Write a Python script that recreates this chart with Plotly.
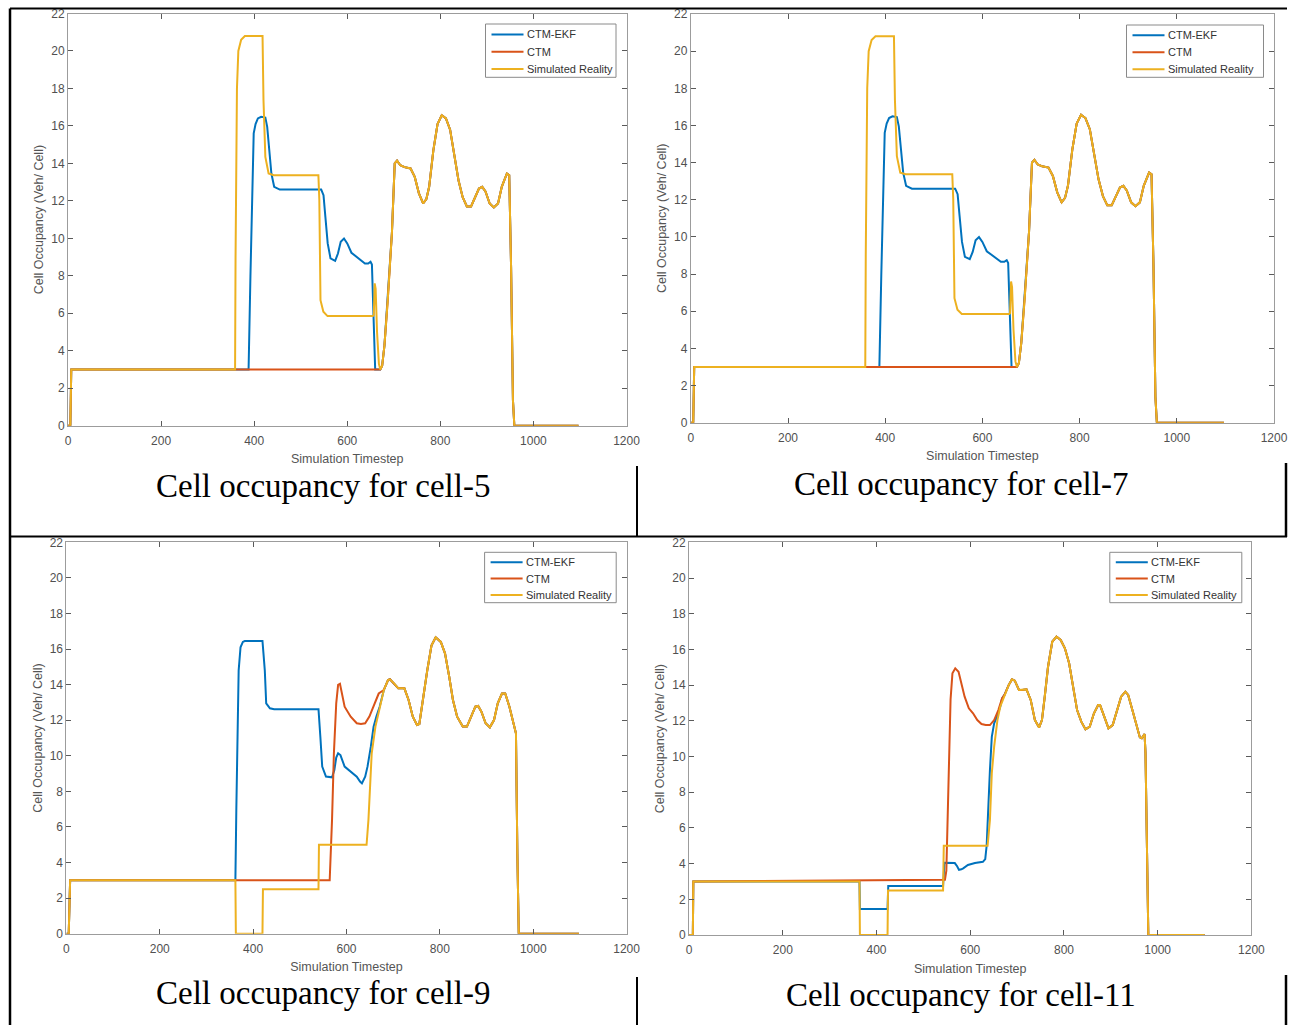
import plotly.graph_objects as go

W, H = 1293, 1025

TIMESTEP_TICKS = [0, 200, 400, 600, 800, 1000, 1200]
OCCUPANCY_TICKS = list(range(0, 23, 2))
SERIES_NAMES = ["CTM-EKF", "CTM", "Simulated Reality"]
SERIES_COLORS = ["#0072BD", "#D95319", "#EDB120"]
CAPTIONS = ["Cell occupancy for cell-5", "Cell occupancy for cell-7",
            "Cell occupancy for cell-9", "Cell occupancy for cell-11"]

# ---- cell-5 -------------------------------------------------------------
C5_REAL_T = [0, 5, 7, 359, 360, 361, 363, 366, 372, 380, 418, 420, 424, 431,
             442, 538, 540, 542.5, 548.7, 557.6, 655, 657, 659, 661, 664, 668,
             671, 675, 680, 687, 696, 702, 707, 714, 723, 736, 745, 754, 763,
             770, 776, 785, 794, 803, 812, 821, 830, 839, 848, 857, 866, 874,
             883, 890, 897, 906, 915, 924, 932, 943, 948, 952, 956, 959, 1097]
C5_REAL_V = [0, 0, 3, 3, 9, 14, 18, 20, 20.6, 20.8, 20.8, 17.4, 14.35, 13.46,
             13.37, 13.37, 12.04, 6.7, 6.08, 5.85, 5.85, 5.9, 7.6, 7.3, 5.0, 3.3,
             3.0, 3.2, 4.3, 6.7, 10.3, 14.0, 14.15, 13.9, 13.8, 13.73, 13.28,
             12.4, 11.86, 12.1, 12.75, 14.7, 16.1, 16.57, 16.4, 15.8, 14.5, 13.1,
             12.2, 11.7, 11.7, 12.2, 12.66, 12.75, 12.5, 11.86, 11.65, 11.86,
             12.75, 13.46, 13.37, 8.48, 1.37, 0, 0]
C5_EKF_T = [0, 5, 7, 388, 392, 396, 399, 403, 408, 415, 424, 428, 433, 437,
            443, 455, 544, 549, 553, 558, 564, 574, 580, 586, 593, 600, 609,
            618, 629, 638, 645, 650, 653, 657, 660, 671]
C5_EKF_V = [0, 0, 3, 3, 8, 13, 15.6, 16.1, 16.4, 16.49, 16.45, 15.95, 14.7,
            13.46, 12.75, 12.6, 12.6, 12.3, 11.15, 9.73, 8.93, 8.8, 9.19, 9.82,
            9.99, 9.73, 9.23, 9.05, 8.84, 8.66, 8.66, 8.75, 8.6, 5.5, 3, 3]
C5_CTM_T = [0, 5, 7, 671]
C5_CTM_V = [0, 0, 3, 3]

# ---- cell-7 (same occupancy record as cell-5) ---------------------------
C7_REAL_T, C7_REAL_V = C5_REAL_T, C5_REAL_V
C7_EKF_T, C7_EKF_V = C5_EKF_T, C5_EKF_V
C7_CTM_T, C7_CTM_V = C5_CTM_T, C5_CTM_V

# ---- cell-9 -------------------------------------------------------------
C9_REAL_T = [0, 5, 8, 362, 363, 420, 421, 540, 541, 643, 647, 651, 654, 662,
             671, 680, 689, 693, 702, 711, 724, 733, 742, 751, 756, 762, 773,
             782, 791, 802, 811, 820, 828, 837, 849, 858, 867, 876, 882, 889,
             898, 907, 916, 924, 933, 940, 949, 958, 963, 966, 969, 1098]
C9_REAL_V = [0, 0, 3, 3, 0, 0, 2.5, 2.5, 5.0, 5.0, 6.4, 8.26, 10.14, 11.64,
             12.76, 13.7, 14.26, 14.3, 14.07, 13.79, 13.79, 13.14, 12.2, 11.73,
             11.79, 12.9, 14.8, 16.2, 16.66, 16.4, 15.76, 14.45, 13.14, 12.2,
             11.64, 11.64, 12.2, 12.76, 12.8, 12.48, 11.83, 11.6, 12.01, 12.95,
             13.5, 13.5, 12.76, 11.83, 11.26, 4.5, 0, 0]
C9_EKF_T = [0, 5, 8, 362, 364, 366, 369, 373, 378, 382, 420, 422, 425, 428,
            436, 445, 540, 544, 548, 556, 569, 574, 578, 582, 587, 596, 609,
            622, 629, 633, 640, 645, 652, 658, 664, 671]
C9_EKF_V = [0, 0, 3, 3, 7, 10.1, 14.8, 16.1, 16.4, 16.45, 16.45, 15.8, 14.8,
            12.95, 12.67, 12.62, 12.62, 11.07, 9.39, 8.83, 8.79, 9.2, 9.9,
            10.14, 10.04, 9.39, 9.11, 8.83, 8.55, 8.45, 8.83, 9.39, 10.5, 11.64,
            12.2, 12.76]
C9_CTM_T = [0, 5, 8, 564, 569, 573, 578, 582, 586, 590, 596, 609, 622, 631,
            640, 649, 658, 669, 680]
C9_CTM_V = [0, 0, 3, 3, 6.4, 10.14, 12.95, 13.98, 14.04, 13.5, 12.76, 12.2,
            11.83, 11.79, 11.83, 12.2, 12.76, 13.5, 13.7]

# ---- cell-11 ------------------------------------------------------------
C11_REAL_T = [0, 8, 9, 363.6, 364.5, 423.5, 424.5, 542, 543.5, 637, 642, 646,
              651, 658, 664, 673, 682, 689, 695, 704, 711, 720, 729, 738, 747,
              753, 759, 766, 775, 784, 793, 802, 811, 820, 828, 837, 846, 855,
              864, 873, 877, 886, 895, 904, 913, 922, 931, 937, 946, 955, 962,
              966, 972, 974, 977, 980, 1100]
C11_REAL_V = [0, 0, 3, 3, 0, 0, 2.5, 2.5, 5.0, 5.0, 6.44, 9.06, 10.55, 12.04,
              12.79, 13.45, 14.0, 14.32, 14.25, 13.73, 13.73, 13.76, 13.17,
              12.04, 11.63, 12.04, 13.35, 15.03, 16.43, 16.71, 16.53, 16.06,
              15.22, 13.91, 12.6, 11.95, 11.52, 11.67, 12.42, 12.88, 12.88,
              12.23, 11.58, 11.76, 12.6, 13.35, 13.63, 13.45, 12.6, 11.67,
              11.07, 11.02, 11.26, 10.2, 4.6, 0, 0]
C11_EKF_T = [0, 8, 9, 363.6, 364.5, 423.5, 425, 542, 545, 567, 572, 576, 581,
             585, 595, 610, 627, 632, 635, 637, 642, 646, 651, 657, 664, 668]
C11_EKF_V = [0, 0, 3, 3, 1.46, 1.46, 2.75, 2.75, 4.05, 4.03, 3.85, 3.65, 3.68,
             3.73, 3.92, 4.03, 4.1, 4.25, 5.0, 6.44, 9.24, 11.1, 11.86, 12.23,
             12.79, 13.26]
C11_CTM_T = [0, 8, 9, 546, 549, 552, 555, 558, 562, 568, 575, 581, 588, 597,
             606, 615, 624, 633, 642, 651, 660, 668]
C11_CTM_V = [0, 0, 3, 3.1, 3.6, 6.5, 10.5, 13.2, 14.66, 14.94, 14.75, 14.1,
             13.35, 12.7, 12.42, 12.04, 11.82, 11.76, 11.76, 12.04, 12.6, 13.26]


def continue_with(head_t, head_v, real_t, real_v):
    """Extend an estimate with the reality trace once the two coincide."""
    t, v = list(head_t), list(head_v)
    for rt, rv in zip(real_t, real_v):
        if rt > head_t[-1]:
            t.append(rt)
            v.append(rv)
    return t, v


# pixel boxes: plot area (l, t, r, b), legend box (l, t, r, b), caption centre
PANELS = [
    dict(real=(C5_REAL_T, C5_REAL_V), ekf=(C5_EKF_T, C5_EKF_V), ctm=(C5_CTM_T, C5_CTM_V),
         box=(68, 13.5, 626.5, 425.7), legend=(485.5, 24, 616, 77.3),
         caption=(322.7, 486)),
    dict(real=(C7_REAL_T, C7_REAL_V), ekf=(C7_EKF_T, C7_EKF_V), ctm=(C7_CTM_T, C7_CTM_V),
         box=(690.8, 14, 1274, 422.7), legend=(1126.5, 25, 1263.5, 77.3),
         caption=(960.7, 484)),
    dict(real=(C9_REAL_T, C9_REAL_V), ekf=(C9_EKF_T, C9_EKF_V), ctm=(C9_CTM_T, C9_CTM_V),
         box=(66.4, 542.3, 626.6, 933.7), legend=(484.6, 552.3, 616.2, 602.7),
         caption=(322.6, 993)),
    dict(real=(C11_REAL_T, C11_REAL_V), ekf=(C11_EKF_T, C11_EKF_V), ctm=(C11_CTM_T, C11_CTM_V),
         box=(689.1, 542.3, 1251.4, 935), legend=(1109.8, 552.3, 1241.8, 602.7),
         caption=(960.7, 995)),
]


def px(x):
    return x / W


def py(y):
    return 1 - y / H


fig = go.Figure()
layout = dict(
    width=W, height=H, autosize=False,
    margin=dict(l=0, r=0, t=0, b=0, autoexpand=False),
    paper_bgcolor="white", plot_bgcolor="white",
    showlegend=False, annotations=[], shapes=[],
    font=dict(family="Liberation Sans, Arial, sans-serif", color="#555555"),
)

AXIS_LINE = "#9c9c9c"
TICK_COLOR = "#5a5a5a"
LEGEND_ROWS = [0.195, 0.52, 0.845]   # fractional row positions inside a key box

for i, p in enumerate(PANELS, start=1):
    sfx = "" if i == 1 else str(i)
    xa, ya = "x" + sfx, "y" + sfx
    real_t, real_v = p["real"]
    ekf_t, ekf_v = continue_with(*p["ekf"], real_t, real_v)
    ctm_t, ctm_v = continue_with(*p["ctm"], real_t, real_v)
    for name, color, (t, v) in zip(SERIES_NAMES, SERIES_COLORS,
                                   [(ekf_t, ekf_v), (ctm_t, ctm_v), (real_t, real_v)]):
        fig.add_trace(go.Scatter(
            x=t, y=v, mode="lines", name=name, xaxis=xa, yaxis=ya,
            line=dict(color=color, width=2), hoverinfo="x+y+name",
        ))

    l, t, r, b = p["box"]
    common = dict(showgrid=False, zeroline=False, showline=True, linecolor=AXIS_LINE,
                  linewidth=1, mirror="ticks", ticks="inside", ticklen=5,
                  tickwidth=1, tickcolor=TICK_COLOR, automargin=False,
                  tickfont=dict(size=12, color="#505050"))
    layout["xaxis" + sfx] = dict(
        common, domain=[px(l), px(r)], anchor=ya, range=[0, 1200],
        tickmode="array", tickvals=TIMESTEP_TICKS, ticklabelstandoff=4,
        title=dict(text="Simulation Timestep", font=dict(size=12.5, color="#555555"),
                   standoff=7),
    )
    layout["yaxis" + sfx] = dict(
        common, domain=[py(b), py(t)], anchor=xa, range=[0, 22],
        tickmode="array", tickvals=OCCUPANCY_TICKS,
        title=dict(text="Cell Occupancy (Veh/ Cell)", font=dict(size=12.5, color="#555555"),
                   standoff=4),
    )

    # series key: framed box with a line sample and label per series
    ll, lt, lr, lb = p["legend"]
    layout["shapes"].append(dict(
        type="rect", xref="paper", yref="paper",
        x0=px(ll), x1=px(lr), y0=py(lb), y1=py(lt),
        line=dict(color="#8a8a8a", width=1), fillcolor="white", layer="above",
    ))
    for frac, name, color in zip(LEGEND_ROWS, SERIES_NAMES, SERIES_COLORS):
        ry = lt + frac * (lb - lt)
        layout["shapes"].append(dict(
            type="line", xref="paper", yref="paper",
            x0=px(ll + 6), x1=px(ll + 38), y0=py(ry), y1=py(ry),
            line=dict(color=color, width=2), layer="above",
        ))
        layout["annotations"].append(dict(
            text=name, x=px(ll + 39.5), y=py(ry), xref="paper", yref="paper",
            xanchor="left", yanchor="middle", showarrow=False,
            font=dict(size=11, color="#333333"),
        ))

    cx, cy = p["caption"]
    layout["annotations"].append(dict(
        text=CAPTIONS[i - 1], x=px(cx), y=py(cy), xref="paper", yref="paper",
        xanchor="center", yanchor="middle", showarrow=False,
        font=dict(family="Liberation Serif, Times New Roman, serif", size=33, color="black"),
    ))

# table rules around the four figures
RULES = [
    (10, 8.5, 1287, 8.5, 2),
    (10, 8.5, 10, 1025, 2.5),
    (10, 536.5, 1287, 536.5, 2),
    (637, 466, 637, 536.5, 2),
    (1286, 463, 1286, 537, 2.5),
    (637, 977, 637, 1025, 2),
    (1286, 975, 1286, 1025, 2.5),
]
for x0, y0, x1, y1, w in RULES:
    layout["shapes"].append(dict(
        type="line", xref="paper", yref="paper", x0=px(x0), y0=py(y0), x1=px(x1), y1=py(y1),
        line=dict(color="black", width=w), layer="above",
    ))

fig.update_layout(**layout)
fig.write_html("out.html")
